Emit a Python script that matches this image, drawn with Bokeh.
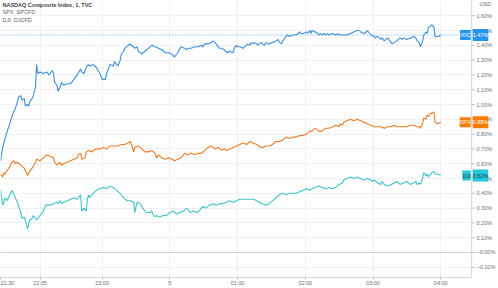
from bokeh.plotting import figure
from bokeh.models import Range1d, FixedTicker, CustomJSTickFormatter, Label, Span, BoxAnnotation
from bokeh.embed import file_html
from bokeh.resources import INLINE

# ---- data (minutes after 21:30, % change) ----
series_titles = ["NASDAQ Composite Index, 1, TVC", "SPX, SPCFD", "DJI, DJCFD"]
series_short = ["IXIC", "SPX", "DJI"]

nasdaq = [(0, 0.62), (2, 0.71), (4, 0.77), (6, 0.82), (9, 0.89), (11, 0.94), (13, 0.97), (15, 1.02),
          (16, 1.05), (18, 1.06), (19, 1.03), (21, 1.04), (22, 0.99), (24, 1.00), (25, 0.99), (26, 1.02),
          (28, 1.04), (29, 1.06), (31, 1.12), (32, 1.27), (33, 1.21), (35, 1.22), (38, 1.21), (41, 1.22),
          (43, 1.20), (46, 1.23), (47, 1.21), (48, 1.15), (50, 1.13), (51, 1.09), (53, 1.12), (54, 1.15),
          (56, 1.13), (59, 1.14), (62, 1.14), (65, 1.17), (68, 1.20), (71, 1.24), (72, 1.22), (74, 1.21),
          (76, 1.25), (78, 1.27), (79, 1.26), (82, 1.27), (85, 1.25), (88, 1.21), (90, 1.17), (93, 1.17),
          (94, 1.21), (96, 1.25), (97, 1.27), (100, 1.26), (101, 1.29), (104, 1.26), (106, 1.30), (107, 1.34),
          (109, 1.36), (110, 1.38), (113, 1.40), (115, 1.41), (116, 1.40), (118, 1.39), (119, 1.38), (121, 1.39),
          (122, 1.36), (124, 1.35), (125, 1.34), (126, 1.35), (128, 1.36), (131, 1.38), (134, 1.40), (137, 1.39),
          (140, 1.38), (143, 1.37), (146, 1.35), (149, 1.35), (152, 1.34), (154, 1.32), (156, 1.34), (157, 1.35),
          (159, 1.38), (160, 1.39), (163, 1.38), (165, 1.37), (166, 1.38), (169, 1.38), (172, 1.39), (175, 1.39),
          (178, 1.40), (179, 1.39), (181, 1.41), (184, 1.41), (187, 1.42), (188, 1.43), (190, 1.42), (191, 1.41),
          (193, 1.39), (194, 1.38), (196, 1.38), (198, 1.37), (201, 1.35), (203, 1.36), (206, 1.35), (207, 1.38),
          (209, 1.40), (210, 1.39), (212, 1.39), (215, 1.38), (216, 1.39), (219, 1.41), (221, 1.40), (222, 1.42),
          (224, 1.41), (225, 1.42), (227, 1.41), (228, 1.40), (229, 1.41), (231, 1.42), (232, 1.41), (234, 1.40),
          (235, 1.42), (237, 1.41), (238, 1.41), (241, 1.42), (244, 1.43), (246, 1.44), (247, 1.42), (249, 1.41),
          (250, 1.43), (253, 1.46), (254, 1.47), (256, 1.46), (259, 1.47), (262, 1.47), (265, 1.49), (266, 1.48),
          (268, 1.48), (271, 1.49), (272, 1.48), (274, 1.50), (275, 1.48), (276, 1.50), (279, 1.49), (281, 1.48),
          (282, 1.47), (284, 1.48), (285, 1.47), (287, 1.48), (288, 1.47), (290, 1.48), (291, 1.47), (294, 1.48),
          (297, 1.47), (299, 1.48), (300, 1.47), (303, 1.47), (304, 1.47), (307, 1.47), (310, 1.48), (313, 1.49),
          (316, 1.50), (318, 1.50), (319, 1.49), (322, 1.48), (324, 1.49), (325, 1.50), (327, 1.48), (328, 1.47),
          (331, 1.46), (332, 1.45), (334, 1.46), (337, 1.44), (338, 1.45), (340, 1.43), (343, 1.45), (346, 1.42),
          (347, 1.41), (349, 1.42), (351, 1.43), (354, 1.45), (356, 1.44), (357, 1.45), (360, 1.44), (363, 1.45),
          (366, 1.46), (368, 1.45), (369, 1.43), (371, 1.42), (372, 1.39), (374, 1.43), (375, 1.47), (377, 1.49),
          (378, 1.48), (379, 1.52), (381, 1.53), (382, 1.54), (384, 1.52), (385, 1.46), (387, 1.46), (388, 1.46),
          (390, 1.47)]

spx = [(0, 0.53), (2, 0.51), (3, 0.54), (4, 0.53), (9, 0.59), (10, 0.61), (12, 0.62), (13, 0.60), (15, 0.61),
       (18, 0.59), (21, 0.57), (24, 0.52), (25, 0.54), (29, 0.58), (31, 0.61), (32, 0.63), (35, 0.62), (38, 0.64),
       (41, 0.66), (44, 0.65), (47, 0.64), (48, 0.61), (50, 0.59), (51, 0.60), (53, 0.61), (54, 0.59), (56, 0.60),
       (59, 0.61), (62, 0.62), (65, 0.63), (68, 0.64), (69, 0.66), (71, 0.67), (72, 0.63), (75, 0.64), (76, 0.68),
       (78, 0.69), (81, 0.68), (82, 0.69), (85, 0.70), (88, 0.70), (91, 0.71), (94, 0.70), (97, 0.72), (100, 0.72),
       (101, 0.72), (104, 0.72), (107, 0.73), (110, 0.73), (113, 0.74), (115, 0.75), (116, 0.73), (118, 0.68),
       (119, 0.71), (122, 0.72), (125, 0.70), (128, 0.68), (131, 0.68), (134, 0.69), (137, 0.67), (138, 0.64),
       (140, 0.66), (143, 0.64), (146, 0.63), (149, 0.64), (152, 0.63), (154, 0.62), (157, 0.63), (160, 0.64),
       (163, 0.67), (166, 0.66), (169, 0.67), (172, 0.66), (175, 0.67), (178, 0.67), (181, 0.69), (184, 0.71),
       (187, 0.72), (190, 0.70), (193, 0.71), (196, 0.69), (198, 0.70), (201, 0.69), (203, 0.70), (206, 0.71),
       (209, 0.72), (212, 0.73), (215, 0.74), (218, 0.73), (221, 0.75), (224, 0.74), (227, 0.73), (229, 0.72),
       (231, 0.71), (232, 0.71), (235, 0.72), (238, 0.72), (241, 0.73), (244, 0.75), (247, 0.75), (250, 0.76),
       (253, 0.78), (256, 0.77), (259, 0.78), (262, 0.78), (265, 0.79), (268, 0.79), (271, 0.80), (274, 0.82),
       (276, 0.82), (279, 0.84), (282, 0.82), (285, 0.82), (288, 0.84), (291, 0.84), (294, 0.85), (297, 0.86),
       (300, 0.85), (301, 0.87), (303, 0.86), (304, 0.88), (307, 0.89), (310, 0.90), (313, 0.89), (316, 0.90),
       (319, 0.89), (322, 0.88), (325, 0.87), (328, 0.86), (331, 0.85), (334, 0.85), (337, 0.85), (340, 0.84),
       (343, 0.85), (346, 0.85), (349, 0.86), (351, 0.85), (354, 0.85), (357, 0.85), (360, 0.85), (363, 0.86),
       (366, 0.86), (369, 0.85), (371, 0.85), (372, 0.84), (374, 0.87), (375, 0.91), (377, 0.90), (378, 0.93),
       (379, 0.92), (381, 0.94), (382, 0.94), (384, 0.95), (385, 0.88), (387, 0.87), (390, 0.88)]

dji = [(0, 0.42), (2, 0.32), (3, 0.34), (4, 0.37), (6, 0.35), (7, 0.37), (9, 0.40), (10, 0.42), (12, 0.39),
       (13, 0.37), (15, 0.34), (16, 0.31), (18, 0.27), (19, 0.23), (21, 0.24), (22, 0.22), (24, 0.16), (25, 0.19),
       (26, 0.22), (28, 0.23), (29, 0.25), (31, 0.23), (32, 0.22), (34, 0.24), (35, 0.25), (38, 0.28), (40, 0.32),
       (41, 0.32), (44, 0.32), (47, 0.33), (50, 0.34), (51, 0.33), (53, 0.35), (54, 0.33), (56, 0.34), (59, 0.35),
       (62, 0.36), (65, 0.37), (68, 0.36), (71, 0.39), (72, 0.28), (74, 0.30), (76, 0.28), (77, 0.36), (78, 0.39),
       (79, 0.37), (82, 0.40), (85, 0.42), (88, 0.43), (91, 0.44), (94, 0.43), (97, 0.45), (100, 0.44), (101, 0.43),
       (103, 0.42), (106, 0.40), (109, 0.37), (112, 0.35), (115, 0.35), (118, 0.34), (119, 0.27), (121, 0.34),
       (124, 0.33), (126, 0.30), (129, 0.27), (132, 0.27), (134, 0.28), (135, 0.26), (137, 0.24), (138, 0.25),
       (141, 0.24), (144, 0.25), (147, 0.25), (150, 0.27), (153, 0.28), (156, 0.26), (159, 0.27), (162, 0.28),
       (165, 0.30), (168, 0.27), (171, 0.28), (174, 0.27), (176, 0.28), (179, 0.31), (182, 0.30), (185, 0.32),
       (188, 0.33), (191, 0.32), (194, 0.33), (197, 0.33), (200, 0.34), (203, 0.35), (206, 0.34), (209, 0.35),
       (212, 0.36), (215, 0.36), (218, 0.36), (221, 0.36), (224, 0.36), (227, 0.35), (229, 0.34), (232, 0.33),
       (235, 0.32), (238, 0.33), (241, 0.35), (244, 0.37), (247, 0.39), (250, 0.40), (253, 0.39), (256, 0.40),
       (259, 0.40), (262, 0.40), (265, 0.41), (268, 0.42), (271, 0.43), (274, 0.42), (276, 0.43), (279, 0.44),
       (282, 0.45), (285, 0.44), (288, 0.43), (291, 0.44), (294, 0.43), (297, 0.44), (300, 0.46), (303, 0.47),
       (304, 0.49), (307, 0.50), (310, 0.51), (313, 0.50), (316, 0.51), (319, 0.50), (322, 0.49), (325, 0.50),
       (328, 0.49), (329, 0.48), (331, 0.49), (334, 0.47), (337, 0.46), (338, 0.48), (340, 0.46), (343, 0.45),
       (346, 0.46), (349, 0.47), (351, 0.48), (354, 0.46), (357, 0.47), (360, 0.48), (363, 0.46), (366, 0.47),
       (368, 0.48), (369, 0.46), (371, 0.47), (372, 0.46), (374, 0.50), (375, 0.54), (377, 0.52), (378, 0.53),
       (379, 0.51), (381, 0.53), (382, 0.54), (384, 0.55), (385, 0.53), (387, 0.53), (390, 0.52)]

time_ticks = [0, 35, 90, 150, 210, 270, 330, 390]
time_labels = ["21:30", "22:05", "23:00", "5", "01:00", "02:00", "03:00", "04:00"]
pct_ticks = [-0.1, 0.0, 0.1, 0.2, 0.3, 0.4, 0.5, 0.6, 0.7, 0.8, 0.9, 1.0, 1.1, 1.2, 1.3, 1.4, 1.5, 1.6]

# ---- styling ----
line_colors = ["#3b8ede", "#ef7a24", "#3ec3c8"]
box_colors = ["#2196f3", "#f57c00", "#26c6da"]
box_text = ["white", "white", "#1b3a40"]
FONT = "Liberation Sans"
X_END = 417.4      # right edge of the price pane (price scale starts here)
X_RIGHT = 439.4    # right edge of the canvas
W, H = 498, 288
FRAME_H = 277
AXIS_COL = "#d1d4dc"

p = figure(width=W, height=H, output_backend="svg", toolbar_location=None,
           x_range=Range1d(0, X_RIGHT), y_range=Range1d(-0.169, 1.703),
           y_axis_location="right",
           min_border_left=0, min_border_top=0, min_border_right=0, min_border_bottom=11,
           background_fill_color="white", border_fill_color="white", outline_line_color=None)

for ax in (p.xaxis[0], p.yaxis[0]):
    ax.minor_tick_line_color = None
    ax.major_label_text_font = FONT
    ax.major_label_text_font_size = "5.5px"
    ax.major_label_text_color = "#6b6e78"

# time axis
p.xaxis.ticker = FixedTicker(ticks=time_ticks)
p.xaxis.major_label_overrides = {t: l for t, l in zip(time_ticks, time_labels)}
p.xaxis.bounds = (0, X_END)
p.xaxis.axis_line_color = AXIS_COL
p.xaxis.major_tick_line_color = "#b8bbc4"
p.xaxis.major_tick_out = 2
p.xaxis.major_tick_in = 0
p.xaxis.major_label_standoff = 0

# price scale (labels drawn into the scale column on the right)
p.yaxis.ticker = FixedTicker(ticks=pct_ticks)
p.yaxis.formatter = CustomJSTickFormatter(
    code="return (tick < 0.005 ? '\u2212' + Math.abs(tick).toFixed(2) : tick.toFixed(2)) + '%';")
p.yaxis.axis_line_color = None
p.yaxis.major_tick_line_color = None
p.yaxis.major_tick_out = 0
p.yaxis.major_tick_in = 0
p.yaxis.major_label_standoff = -20

p.xgrid.grid_line_color = "#eef0f5"
p.ygrid.grid_line_color = "#eef0f5"

p.add_layout(Span(location=0, dimension="width", line_color=AXIS_COL, line_width=1, level="underlay"))
p.add_layout(Span(location=nasdaq[-1][1], dimension="width", line_color="#2196f3",
                  line_alpha=0.45, line_width=1, line_dash="2 1", level="underlay"))
# price-scale column background
p.add_layout(BoxAnnotation(left=X_END, right=X_RIGHT + 5, fill_color="white", fill_alpha=1,
                           line_color=None, level="underlay"))
p.add_layout(Span(location=X_END, dimension="height", line_color=AXIS_COL, line_width=1, level="underlay"))

# small tick marks on the price scale
p.ray(x=[X_END] * len(pct_ticks), y=pct_ticks, length=3, length_units="screen", angle=0,
      line_color="#b8bbc4", line_width=1)

for data, col in zip([dji, spx, nasdaq], [line_colors[2], line_colors[1], line_colors[0]]):
    xs = [d[0] for d in data]
    ys = [d[1] for d in data]
    p.line(xs, ys, line_color=col, line_width=1.1)

# header legend text
for i, title in enumerate(series_titles):
    p.add_layout(Label(x=2, y=FRAME_H - 4 - i * 7.7, x_units="screen", y_units="screen",
                       text=title, text_font=FONT, text_font_size="5.5px",
                       text_font_style="bold" if i == 0 else "normal",
                       text_color="#3c3f48" if i == 0 else "#5d606b",
                       text_baseline="middle", text_align="left"))

p.add_layout(Label(x=479, y=FRAME_H - 3.5, x_units="screen", y_units="screen", text="USD",
                   text_font=FONT, text_font_size="5.5px", text_color="#6b6e78",
                   text_baseline="middle", text_align="left"))

# price labels on the scale
for data, name, bc, tc in zip([nasdaq, spx, dji], series_short, box_colors, box_text):
    last = data[-1][1]
    p.add_layout(Label(x=X_END, y=last, x_offset=-1, text=name, text_font=FONT,
                       text_font_size="5.5px", text_color=tc, text_align="right",
                       text_baseline="middle", background_fill_color=bc, padding=(0, 2)))
    p.add_layout(Label(x=X_END, y=last, x_offset=1, text=f"{last:.2f}%", text_font=FONT,
                       text_font_size="5.5px", text_color=tc, text_align="left",
                       text_baseline="middle", background_fill_color=bc, padding=(0, 3)))

open("out.html", "w").write(file_html(p, INLINE))
